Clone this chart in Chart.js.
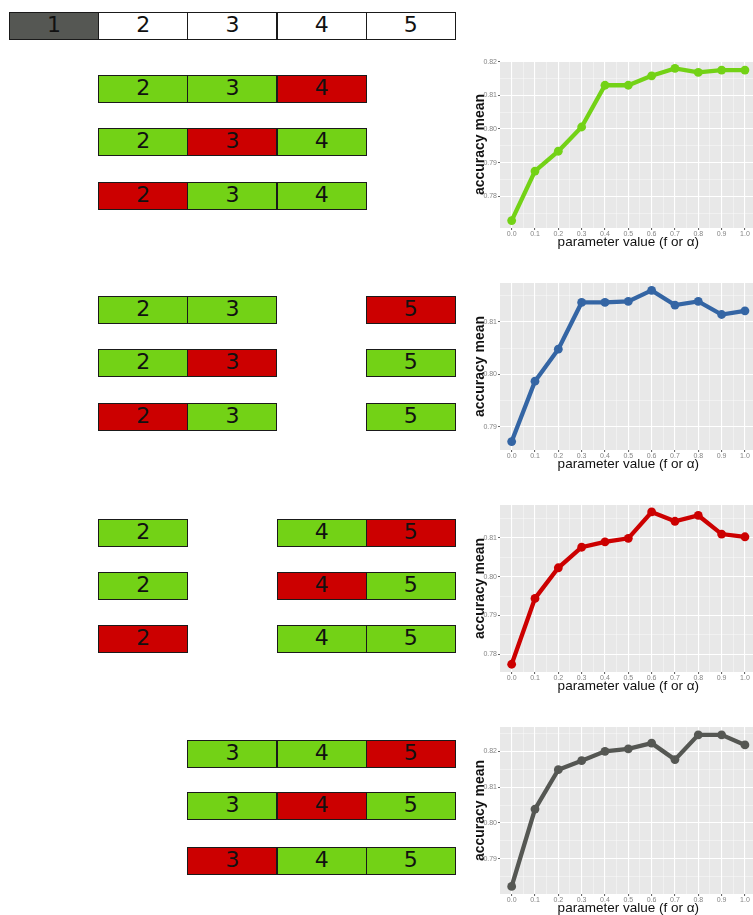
<!DOCTYPE html>
<html>
<head>
<meta charset="utf-8">
<script src="https://cdn.jsdelivr.net/npm/chart.js@4/dist/chart.umd.min.js"></script>
<style>
  html, body { margin: 0; padding: 0; background: #fff; }
  body { position: relative; width: 753px; height: 915px; overflow: hidden; font-family: "DejaVu Sans", sans-serif; }
  .cell {
    position: absolute; box-sizing: border-box; height: 28px;
    border: 1.8px solid #1a1a1a; color: #111;
    font-size: 22px; line-height: 24px; text-align: center;
  }
  .plot { position: absolute; left: 470px; width: 291px; height: 195px; }
</style>
</head>
<body>
<div id="diagram"></div>
<div class="plot" style="top:55px"><canvas id="c1"></canvas></div>
<div class="plot" style="top:277px"><canvas id="c2"></canvas></div>
<div class="plot" style="top:499px"><canvas id="c3"></canvas></div>
<div class="plot" style="top:721px"><canvas id="c4"></canvas></div>
<script>
// parameter values (x) and mean accuracy per held-out setup
const paramValues = [0.0, 0.1, 0.2, 0.3, 0.4, 0.5, 0.6, 0.7, 0.8, 0.9, 1.0];
const accWithout5 = [0.7728, 0.7875, 0.7934, 0.8006, 0.8130, 0.8130, 0.8158, 0.8180, 0.8168, 0.8175, 0.8175];
const accWithout4 = [0.7872, 0.7987, 0.8048, 0.8137, 0.8137, 0.8139, 0.8160, 0.8132, 0.8139, 0.8114, 0.8121];
const accWithout3 = [0.7774, 0.7944, 0.8023, 0.8076, 0.8090, 0.8099, 0.8167, 0.8143, 0.8158, 0.8110, 0.8103];
const accWithout2 = [0.7823, 0.8039, 0.8149, 0.8174, 0.8200, 0.8207, 0.8223, 0.8177, 0.8246, 0.8246, 0.8218];

const yMins = [0.7706, 0.7856, 0.7754, 0.7802];
const yMaxs = [0.8202, 0.8174, 0.8185, 0.8268];
const lineColors = ["#73d216", "#3465a4", "#cc0000", "#555753"];

// fold diagram: top bar, then rows as [folds, red fold]
const topFolds = [1, 2, 3, 4, 5];
const groupFolds = [[2, 3, 4], [2, 3, 5], [2, 4, 5], [3, 4, 5]];
const rowTops = [[75, 128, 182], [296, 349, 403], [519, 572, 625], [740, 792, 847]];
const redOrder = [[4, 3, 2], [5, 3, 2], [5, 4, 2], [5, 4, 3]];

const diagram = document.getElementById("diagram");
const cellW = 89.2;
function addCell(fold, top, bg) {
  const d = document.createElement("div");
  d.className = "cell";
  d.style.left = (9 + (fold - 1) * cellW) + "px";
  d.style.width = (cellW + 0.9) + "px";
  d.style.top = top + "px";
  d.style.background = bg;
  d.textContent = fold;
  diagram.appendChild(d);
}
topFolds.forEach((f) => addCell(f, 11.5, f === 1 ? "#555753" : "#ffffff"));
groupFolds.forEach((folds, g) => {
  rowTops[g].forEach((top, r) => {
    folds.forEach((f) => addCell(f, top, f === redOrder[g][r] ? "#cc0000" : "#73d216"));
  });
});

const panelBg = {
  id: "panelBg",
  beforeDraw(chart) {
    const { ctx, chartArea: a } = chart;
    ctx.save();
    ctx.fillStyle = "#e8e8e8";
    ctx.fillRect(a.left, a.top, a.right - a.left, a.bottom - a.top);
    ctx.restore();
  }
};

const isMajor = (v, step) => Math.abs(Math.round(v / step) * step - v) < step / 100;

function makeChart(id, values, color, yMin, yMax) {
  new Chart(document.getElementById(id), {
    type: "line",
    data: {
      datasets: [
        {
          data: paramValues.map((x, i) => ({ x: x, y: values[i] })),
          borderColor: color,
          backgroundColor: color,
          borderWidth: 4.3,
          pointRadius: 4.4,
          pointBorderWidth: 0,
          clip: false
        }
      ]
    },
    options: {
      responsive: true,
      maintainAspectRatio: false,
      animation: false,
      layout: { padding: { top: 6, left: 0, right: 0, bottom: 0 } },
      plugins: { legend: { display: false }, tooltip: { enabled: false } },
      scales: {
        x: {
          type: "linear",
          min: -0.05,
          max: 1.05,
          afterFit(scale) { scale.height = 22; },
          border: { display: false },
          grid: {
            color: (c) => (c.tick.value < -0.001 || c.tick.value > 1.001) ? "rgba(0,0,0,0)" :
              isMajor(c.tick.value, 0.1) ? "#ffffff" : "rgba(255,255,255,0.55)",
            lineWidth: (c) => isMajor(c.tick.value, 0.1) ? 1.1 : 0.7,
            tickColor: (c) => isMajor(c.tick.value, 0.1) ? "#666" : "rgba(0,0,0,0)",
            tickLength: 2
          },
          ticks: {
            stepSize: 0.05,
            includeBounds: false,
            autoSkip: false,
            maxRotation: 0,
            padding: 0,
            color: "#858585",
            font: { family: "Liberation Sans", size: 7 },
            callback: (v) => isMajor(v, 0.1) && v > -0.001 ? v.toFixed(1) : ""
          },
          title: {
            display: true,
            text: "parameter value (f or α)",
            color: "#111",
            font: { family: "Liberation Sans", size: 13.5 },
            padding: { top: 0, bottom: 0 }
          }
        },
        y: {
          min: yMin,
          max: yMax,
          afterFit(scale) { scale.width = 30; },
          border: { display: false },
          grid: {
            color: (c) => isMajor(c.tick.value, 0.01) ? "#ffffff" : "rgba(255,255,255,0.55)",
            lineWidth: (c) => isMajor(c.tick.value, 0.01) ? 1.1 : 0.7,
            tickColor: (c) => isMajor(c.tick.value, 0.01) ? "#666" : "rgba(0,0,0,0)",
            tickLength: 2
          },
          ticks: {
            stepSize: 0.005,
            includeBounds: false,
            autoSkip: false,
            padding: 1,
            color: "#858585",
            font: { family: "Liberation Sans", size: 7 },
            callback: (v) => isMajor(v, 0.01) ? v.toFixed(2) : ""
          },
          title: {
            display: true,
            text: "accuracy mean",
            color: "#111",
            font: { family: "Liberation Sans", size: 14, weight: "bold" },
            padding: { top: 2, bottom: 0 }
          }
        }
      }
    },
    plugins: [panelBg]
  });
}

makeChart("c1", accWithout5, lineColors[0], yMins[0], yMaxs[0]);
makeChart("c2", accWithout4, lineColors[1], yMins[1], yMaxs[1]);
makeChart("c3", accWithout3, lineColors[2], yMins[2], yMaxs[2]);
makeChart("c4", accWithout2, lineColors[3], yMins[3], yMaxs[3]);
</script>
</body>
</html>
